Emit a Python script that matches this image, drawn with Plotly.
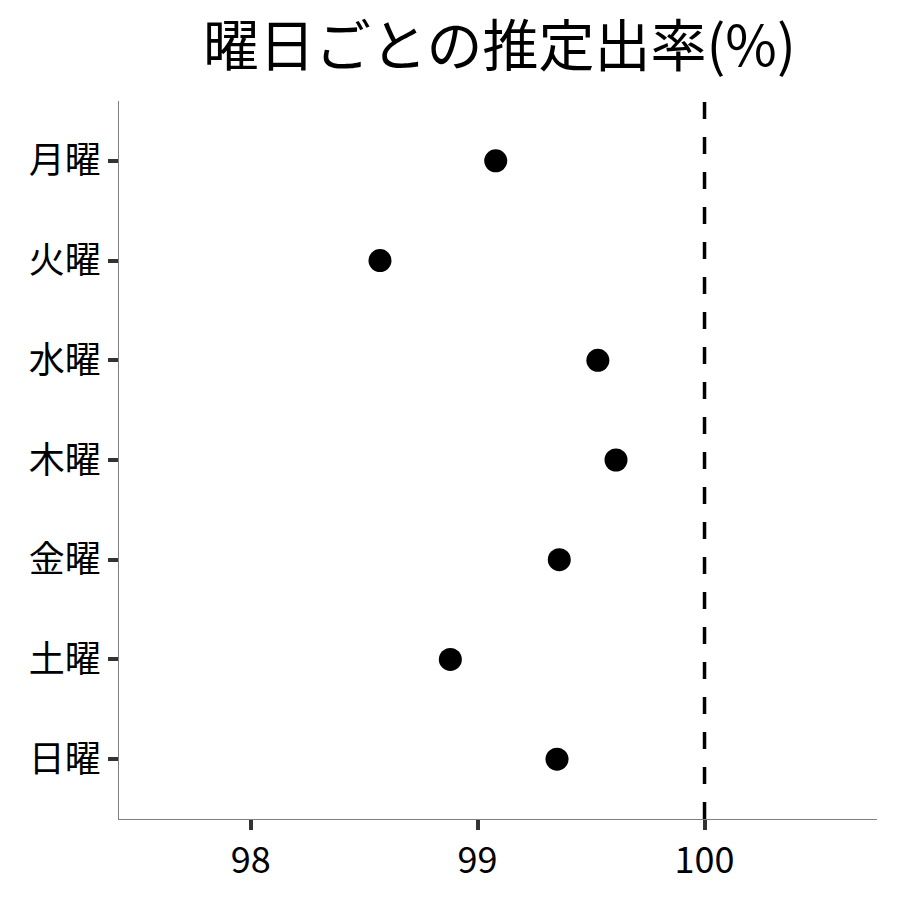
import plotly.graph_objects as go

# 曜日ごとの推定出率
days = ["月曜", "火曜", "水曜", "木曜", "金曜", "土曜", "日曜"]
rates = [99.08, 98.57, 99.53, 99.61, 99.36, 98.88, 99.35]
ref_value = 100
x_ticks = [98, 99, 100]

FONT = "Noto Sans CJK JP"

fig = go.Figure()

fig.add_trace(go.Scatter(
    x=rates,
    y=days,
    mode="markers",
    marker=dict(color="black", size=23),
    showlegend=False,
))

fig.add_vline(x=ref_value, line=dict(color="black", width=3.5, dash="17px,18px"))

# page body adds ~8px offset, so margins are trimmed to match
fig.update_layout(
    width=900,
    height=900,
    margin=dict(l=111, r=31, t=93, b=89),
    paper_bgcolor="white",
    plot_bgcolor="white",
    font=dict(family=FONT, color="black"),
    title=dict(
        text="曜日ごとの推定出率(%)",
        font=dict(family=FONT, size=56, color="black"),
        x=0.546, xanchor="center",
        y=0.957, yanchor="middle",
    ),
)

fig.update_xaxes(
    range=[97.42, 100.76],
    tickvals=x_ticks,
    ticks="outside", ticklen=10, tickwidth=3.5, tickcolor="#333333",
    showline=True, linecolor="#7f7f7f", linewidth=1.3,
    showgrid=False, zeroline=False,
    tickfont=dict(family=FONT, size=36, color="black"),
)

fig.update_yaxes(
    categoryorder="array", categoryarray=days,
    range=[6.6, -0.6],
    ticks="outside", ticklen=10, tickwidth=3.5, tickcolor="#333333",
    showline=True, linecolor="#7f7f7f", linewidth=1.3,
    showgrid=False, zeroline=False,
    tickfont=dict(family=FONT, size=36, color="black"),
)

fig.write_html("out.html")
